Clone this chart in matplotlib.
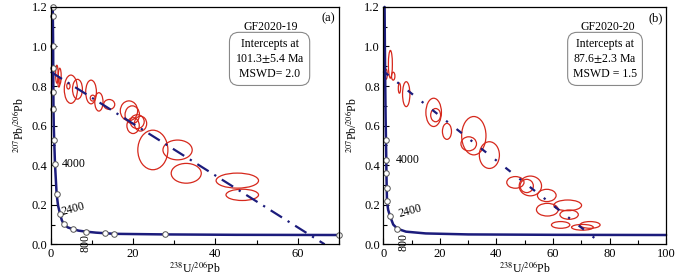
import matplotlib
matplotlib.use("Agg")
import matplotlib.pyplot as plt
from matplotlib.patches import Ellipse

plt.rcParams['font.family'] = ['Liberation Serif', 'DejaVu Serif']
plt.rcParams['mathtext.fontset'] = 'stix'

NAVY = '#1c1c7c'
RED = '#d6281c'

# ---- panel (a) GF2020-19 ----
conc_a_x = [0.5, 0.6, 0.62, 0.65, 0.68, 0.75, 0.85, 1.05, 1.45, 1.8, 2.26, 2.7, 3.2, 4.2, 5.5, 6.8, 8.6, 11.0, 13.2, 15.4, 27.8, 45.0, 70.0]
conc_a_y = [1.2, 1.0, 0.89, 0.77, 0.68, 0.6, 0.527, 0.404, 0.252, 0.195, 0.155, 0.122, 0.101, 0.085, 0.076, 0.069, 0.064, 0.059, 0.056, 0.053, 0.05, 0.048, 0.047]
mark_a_x = [0.5, 0.6, 0.6, 0.6, 0.65, 0.65, 0.7, 1.05, 1.45, 2.26, 3.2, 5.5, 8.6, 13.2, 15.4, 27.8, 70.0]
mark_a_y = [1.2, 1.155, 1.0, 0.892, 0.771, 0.683, 0.527, 0.404, 0.252, 0.155, 0.101, 0.076, 0.064, 0.056, 0.052, 0.050, 0.047]
disc_a_x = [0.0, 66.5]
disc_a_y = [0.872, 0.0]
ell_a_x = [0.2, 1.5, 2.2, 2.0, 4.9, 6.5, 4.3, 9.8, 11.7, 10.2, 14.2, 19.0, 19.8, 20.0, 21.0, 21.8, 24.8, 30.8, 32.9, 45.3, 46.5]
ell_a_y = [0.88, 0.86, 0.85, 0.82, 0.784, 0.784, 0.80, 0.77, 0.72, 0.739, 0.707, 0.675, 0.655, 0.60, 0.62, 0.61, 0.477, 0.477, 0.359, 0.322, 0.25]
ell_a_w = [0.6, 0.6, 0.7, 0.5, 3.2, 2.4, 0.8, 2.6, 2.0, 1.2, 2.7, 4.2, 3.5, 3.0, 3.4, 3.0, 7.3, 7.1, 7.3, 10.3, 7.9]
ell_a_h = [0.13, 0.09, 0.08, 0.05, 0.143, 0.10, 0.03, 0.12, 0.093, 0.03, 0.05, 0.10, 0.09, 0.08, 0.07, 0.075, 0.20, 0.10, 0.10, 0.076, 0.057]

# ---- panel (b) GF2020-20 ----
conc_b_x = [0.45, 0.55, 0.65, 0.8, 0.94, 1.05, 1.1, 1.2, 1.3, 1.7, 2.36, 3.5, 4.95, 8.0, 15.0, 30.0, 60.0, 100.0]
conc_b_y = [1.2, 1.0, 0.85, 0.65, 0.527, 0.426, 0.358, 0.283, 0.22, 0.175, 0.143, 0.1, 0.079, 0.064, 0.055, 0.05, 0.048, 0.047]
mark_b_x = [0.94, 1.05, 1.1, 1.2, 1.3, 2.36, 4.95]
mark_b_y = [0.527, 0.426, 0.358, 0.283, 0.22, 0.143, 0.079]
disc_b_x = [0.0, 77.5]
disc_b_y = [0.875, 0.0]
ell_b_x = [2.5, 1.0, 3.5, 5.7, 8.1, 17.8, 18.5, 22.5, 32.0, 30.2, 37.5, 46.7, 52.0, 50.7, 57.8, 58.0, 65.2, 65.7, 62.7, 70.4, 73.1]
ell_b_y = [0.91, 0.86, 0.85, 0.789, 0.759, 0.667, 0.653, 0.571, 0.549, 0.508, 0.451, 0.313, 0.295, 0.295, 0.247, 0.175, 0.197, 0.15, 0.098, 0.086, 0.098]
ell_b_w = [1.4, 0.8, 1.2, 0.8, 2.6, 5.5, 3.5, 3.2, 8.6, 5.5, 7.1, 6.1, 7.9, 4.7, 6.6, 7.7, 9.8, 6.5, 6.5, 7.7, 7.1]
ell_b_h = [0.14, 0.05, 0.04, 0.05, 0.126, 0.143, 0.067, 0.081, 0.194, 0.071, 0.135, 0.059, 0.10, 0.067, 0.062, 0.064, 0.054, 0.047, 0.034, 0.029, 0.034]

panels = [
    dict(rect=[0.0724, 0.118, 0.412, 0.857], xmax=70, xmajor=20,
         cx=conc_a_x, cy=conc_a_y, mx=mark_a_x, my=mark_a_y,
         dx=disc_a_x, dy=disc_a_y, dash=(0, (6, 3, 1, 3)),
         ex=ell_a_x, ey=ell_a_y, ew=ell_a_w, eh=ell_a_h,
         sample='GF2020-19', box='Intercepts at\n101.3$\\pm$5.4 Ma\nMSWD= 2.0',
         tag='(a)', boxx=0.759, titx=0.764,
         lab4000=(2.7, 0.406), lab2400=(5.4, 0.179), lab800=(8.5, 0.005)),
    dict(rect=[0.5476, 0.118, 0.404, 0.857], xmax=100, xmajor=20,
         cx=conc_b_x, cy=conc_b_y, mx=mark_b_x, my=mark_b_y,
         dx=disc_b_x, dy=disc_b_y, dash=(0, (3, 5, 1, 5)),
         ex=ell_b_x, ey=ell_b_y, ew=ell_b_w, eh=ell_b_h,
         sample='GF2020-20', box='Intercepts at\n87.6$\\pm$2.3 Ma\nMSWD = 1.5',
         tag='(b)', boxx=0.784, titx=0.795,
         lab4000=(4.5, 0.426), lab2400=(9.6, 0.169), lab800=(7.2, 0.01)),
]

fig = plt.figure(figsize=(7, 2.77), dpi=100)

for p in panels:
    ax = fig.add_axes(p['rect'])
    ax.set_xlim(0, p['xmax'])
    ax.set_ylim(0, 1.2)

    for x, y, w, h in zip(p['ex'], p['ey'], p['ew'], p['eh']):
        ax.add_patch(Ellipse((x, y), w, h, fill=False, edgecolor=RED, lw=0.9))

    ax.plot(p['dx'], p['dy'], color=NAVY, lw=1.6, linestyle=p['dash'], clip_on=False)
    ax.plot(p['cx'], p['cy'], color=NAVY, lw=1.8, solid_capstyle='round', clip_on=False)
    ax.plot(p['mx'], p['my'], 'o', ms=4, mfc='white', mec='#555555', mew=0.7, clip_on=False)

    ax.text(*p['lab4000'], '4000', fontsize=8.5, va='center', ha='left')
    ax.text(*p['lab2400'], '2400', fontsize=8.5, va='center', ha='center', rotation=15)
    ax.text(*p['lab800'], '800', fontsize=8.5, va='center', ha='center', rotation=90, clip_on=False)

    ax.text(p['titx'], 0.916, p['sample'], transform=ax.transAxes, fontsize=8.5, ha='center', va='center')
    ax.text(p['boxx'], 0.781, p['box'], transform=ax.transAxes, fontsize=8.5, ha='center', va='center',
            linespacing=1.3,
            bbox=dict(boxstyle='round,pad=0.45,rounding_size=0.8', fc='white', ec='#888888', lw=0.8))
    ax.text(0.962, 0.954, p['tag'], transform=ax.transAxes, fontsize=9, ha='center', va='center')

    ax.set_xticks(range(0, p['xmax'] + 1, p['xmajor']))
    ax.set_xticks(range(0, p['xmax'] + 1, 10), minor=True)
    ax.set_yticks([0.0, 0.2, 0.4, 0.6, 0.8, 1.0, 1.2])
    ax.set_yticklabels(['0.0', '0.2', '0.4', '0.6', '0.8', '1.0', '1.2'])
    ax.set_yticks([i / 10 for i in range(13)], minor=True)
    ax.tick_params(which='both', direction='in', labelsize=9, width=0.8)
    ax.tick_params(which='major', length=4, pad=2.5)
    ax.tick_params(which='minor', length=3)
    for s in ax.spines.values():
        s.set_linewidth(0.9)

    ax.set_xlabel(r'$^{238}$U/$^{206}$Pb', fontsize=8.5, labelpad=0)
    ax.set_ylabel(r'$^{207}$Pb/$^{206}$Pb', fontsize=8.5, labelpad=4)

fig.savefig('out.png', dpi=100)
